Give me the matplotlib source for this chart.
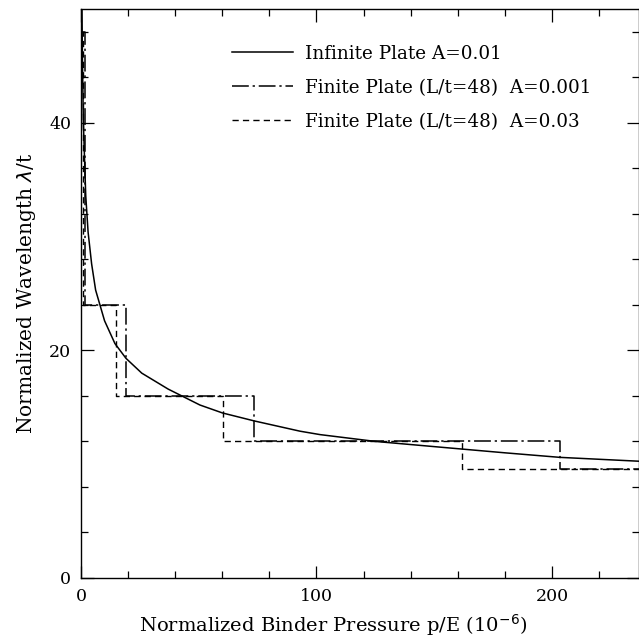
import numpy as np
import matplotlib
matplotlib.use('Agg')
import matplotlib.pyplot as plt
from matplotlib.ticker import MultipleLocator

# infinite plate curve
inf_x = [0.4, 0.6, 1.0, 2.0, 3.0, 4.5, 6.2, 10.0, 14.4, 19.1, 25.8, 37.0,
         50.5, 60.1, 73.6, 93.0, 101.5, 125.0, 152.4, 180.0, 203.4, 237.0]
inf_y = [50.0, 45.5, 40.0, 33.6, 30.4, 27.6, 25.3, 22.6, 20.6, 19.3, 18.0, 16.6,
         15.2, 14.5, 13.8, 12.9, 12.6, 12.0, 11.5, 11.0, 10.6, 10.26]

# finite plate steps (lambda/t = 48/n)
levels = [48, 24, 16, 12, 9.6]
edges_a001 = [0.0, 1.7, 19.1, 73.6, 203.4, 240.0]
edges_a03 = [0.0, 0.7, 14.7, 60.1, 162.0, 240.0]

labels = ['Infinite Plate A=0.01',
          'Finite Plate (L/t=48)  A=0.001',
          'Finite Plate (L/t=48)  A=0.03']

plt.rcParams['font.family'] = ['DejaVu Serif']
fs = 12.5

fig = plt.figure(figsize=(6.39, 6.41), dpi=100)
ax = fig.add_axes([0.1268, 0.0983, 0.8732, 0.8877])

ax.plot(inf_x, inf_y, color='black', lw=1.1, label=labels[0])

sy = levels + [levels[-1]]
ax.step(edges_a001, sy, where='post', color='black', lw=1.1,
        dashes=(11, 2.5, 1.5, 2.5), label=labels[1])
ax.step(edges_a03, sy, where='post', color='black', lw=1.0,
        dashes=(4.5, 3), label=labels[2])

ax.set_xlim(0, 237)
ax.set_ylim(0, 50)
ax.xaxis.set_major_locator(MultipleLocator(100))
ax.xaxis.set_minor_locator(MultipleLocator(20))
ax.yaxis.set_major_locator(MultipleLocator(20))
ax.yaxis.set_minor_locator(MultipleLocator(4))
ax.tick_params(which='both', direction='in', top=True, right=True,
               labelsize=fs, width=0.9)
ax.tick_params(which='major', length=9, pad=7)
ax.tick_params(which='minor', length=5)
for s in ax.spines.values():
    s.set_linewidth(1.0)

ax.set_xlabel('Normalized Binder Pressure p/E (10$^{-6}$)', fontsize=14)
ax.xaxis.set_label_coords(0.452, -0.06)
ax.set_ylabel('Normalized Wavelength $\\lambda$/t', fontsize=14.5)
ax.yaxis.set_label_coords(-0.077, 0.5)

ax.legend(loc='upper left', bbox_to_anchor=(0.255, 0.953), frameon=False,
          fontsize=13.2, handlelength=3.3, handletextpad=0.65,
          labelspacing=0.87, borderpad=0)

fig.savefig('out.png', dpi=100)
